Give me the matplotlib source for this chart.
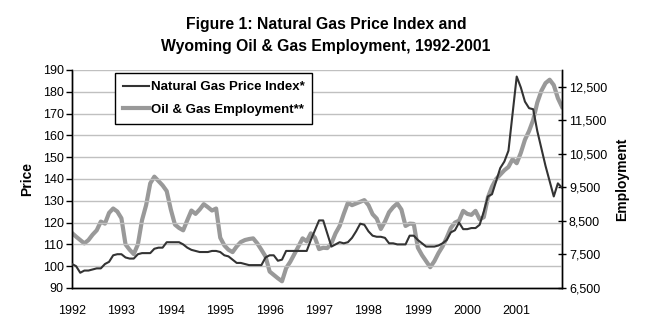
import matplotlib
matplotlib.use("Agg")
import matplotlib.pyplot as plt
import numpy as np

# monthly values, Jan 1992 .. Dec 2001
years = [1992, 1993, 1994, 1995, 1996, 1997, 1998, 1999, 2000, 2001]

price_index = [
    101, 100, 97, 98, 98, 98.5, 99, 99, 101, 102, 105, 105.5,
    105.5, 104, 103.5, 103.5, 105.5, 106, 106, 106, 108, 108.5, 108.5, 111,
    111, 111, 111, 110, 108.5, 107.5, 107, 106.5, 106.5, 106.5, 107, 107,
    106.5, 105, 104.5, 103, 101.5, 101.5, 101, 100.5, 100.5, 100.5, 100.5, 104,
    105, 105, 102.5, 103, 107, 107, 107, 107, 107, 107, 112, 116.5,
    121, 121, 115, 109, 110, 111, 110.5, 111, 113, 116, 119.5, 119,
    116, 114, 113.5, 113.5, 113, 110.5, 110.5, 110, 110, 110, 114, 114,
    112, 110.5, 109, 109, 109, 109.5, 110.5, 112, 115.5, 116.5, 120, 117,
    117, 117.5, 117.5, 119, 125, 132, 133, 139, 145, 148, 153, 170,
    187, 182, 175.5, 172.5, 172, 162, 154, 146, 139, 132, 138, 136,
]

employment = [
    8140, 8030, 7930, 7830, 7930, 8090, 8220, 8480, 8420, 8740, 8870, 8780,
    8580, 7800, 7640, 7510, 7800, 8520, 8970, 9620, 9820, 9690, 9560, 9390,
    8840, 8390, 8290, 8220, 8520, 8810, 8710, 8840, 9000, 8910, 8810, 8870,
    8000, 7770, 7640, 7570, 7740, 7870, 7930, 7960, 7980, 7830, 7640, 7440,
    6990, 6890, 6790, 6700, 7090, 7280, 7510, 7740, 7980, 7890, 8130, 8000,
    7660, 7700, 7690, 7830, 8130, 8350, 8710, 9040, 8970, 9020, 9070, 9120,
    8970, 8700, 8570, 8260, 8480, 8760, 8910, 9020, 8840, 8350, 8420, 8410,
    7700, 7480, 7300, 7120, 7300, 7540, 7740, 8000, 8290, 8450, 8510, 8800,
    8710, 8680, 8800, 8550, 8610, 9200, 9520, 9750, 9880, 10010, 10110, 10340,
    10220, 10530, 10920, 11180, 11510, 12030, 12380, 12610, 12710, 12550, 12160, 11900,
]

price_ticks = list(range(90, 191, 10))
emp_ticks = list(range(6500, 12501, 1000))

plt.rcParams['font.family'] = ['Liberation Sans', 'DejaVu Sans']

fig = plt.figure(figsize=(6.52, 3.30), dpi=100)
ax = fig.add_axes([72/652, 1 - 288/330, 490/652, 218/330])
ax2 = ax.twinx()

months = np.arange(len(price_index))

# gridlines
for t in price_ticks:
    ax.axhline(t, color="#c0c0c0", linewidth=1, zorder=0)

l1, = ax.plot(months, price_index, color="#333333", linewidth=1.5, zorder=3,
              label="Natural Gas Price Index*")
l2, = ax2.plot(months, employment, color="#999999", linewidth=3, zorder=2,
               label="Oil & Gas Employment**")
ax.set_zorder(ax2.get_zorder() + 1)
ax.patch.set_visible(False)

ax.set_xlim(0, len(price_index) - 1)
ax.set_ylim(90, 190)
ax2.set_ylim(6500, 13000)

ax.set_yticks(price_ticks)
ax.set_yticklabels([str(t) for t in price_ticks], fontsize=9)
ax2.set_yticks(emp_ticks)
ax2.set_yticklabels(["{:,}".format(t) for t in emp_ticks], fontsize=9)
ax.set_xticks([12 * k for k in range(len(years))])
ax.set_xticklabels([str(y) for y in years], fontsize=9)

ax.tick_params(axis="x", length=0, pad=12)
ax.tick_params(axis="y", direction="out", length=4, width=1, pad=2)
ax2.tick_params(axis="y", direction="inout", length=6, width=1, pad=2)

for a in (ax, ax2):
    a.spines["top"].set_visible(False)
    for s in ("left", "right", "bottom"):
        a.spines[s].set_color("black")
        a.spines[s].set_linewidth(1)

ax.set_ylabel("Price", fontsize=10, fontweight="bold", labelpad=6)
ax2.set_ylabel("Employment", fontsize=10, fontweight="bold", labelpad=6)

fig.text(0.5, 1 - 25/330, "Figure 1: Natural Gas Price Index and",
         ha="center", va="center", fontsize=11.3, fontweight="bold")
fig.text(0.5, 1 - 47/330, "Wyoming Oil & Gas Employment, 1992-2001",
         ha="center", va="center", fontsize=11.3, fontweight="bold")

leg = ax.legend(handles=[l1, l2], loc="upper left",
                bbox_to_anchor=((115 - 72) / 490, 1 - 3/218),
                prop={"weight": "bold", "size": 9.5}, frameon=True,
                fancybox=False, edgecolor="black", framealpha=1,
                handlelength=2.0, handletextpad=0.1, borderpad=0.6,
                labelspacing=0.8, borderaxespad=0)
leg.get_frame().set_linewidth(1)

fig.savefig("out.png", dpi=100)
